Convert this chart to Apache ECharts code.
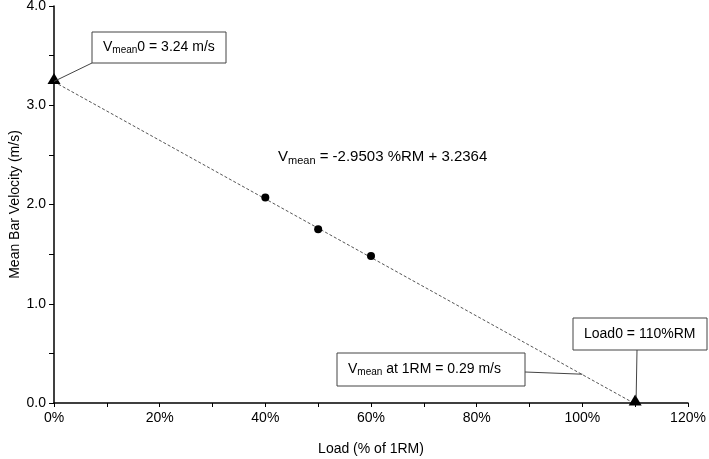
<!DOCTYPE html>
<html><head><meta charset="utf-8">
<script src="https://cdn.jsdelivr.net/npm/echarts@6/dist/echarts.min.js"></script>
<style>html,body{margin:0;padding:0;background:#fff}#c{width:709px;height:459px}</style>
</head><body><div id="c"></div>
<script>
// Data
var loads = [0.40, 0.50, 0.60];
var velocities = [2.07, 1.75, 1.48];
var slope = -2.9503, intercept = 3.2364;
var v0Point = [0, 3.24];
var load0Point = [1.10, 0];
var oneRMPoint = [1.00, 0.29];
var xTicks = ['0%', '20%', '40%', '60%', '80%', '100%', '120%'];
var yTicks = ['0.0', '1.0', '2.0', '3.0', '4.0'];

var FONT = 'Liberation Sans, Arial, sans-serif';
var chart = echarts.init(document.getElementById('c'), null, {renderer: 'canvas'});
var lineEndX = -intercept / slope;
var option = {
  animation: false,
  backgroundColor: '#fff',
  grid: {left: 54, right: 21, top: 6, bottom: 56, containLabel: false, outerBoundsMode: 'none'},
  xAxis: {
    type: 'value', min: 0, max: 1.2, interval: 0.2,
    name: 'Load (% of 1RM)', nameLocation: 'middle', nameGap: 39, nameMoveOverlap: false,
    nameTextStyle: {fontFamily: FONT, fontSize: 14, color: '#000'},
    axisLine: {show: true, onZero: false, lineStyle: {color: '#000', width: 1.5}},
    axisTick: {show: true, inside: false, length: 4, lineStyle: {color: '#000'}},
    minorTick: {show: true, splitNumber: 2, length: 4, lineStyle: {color: '#000'}},
    splitLine: {show: false},
    axisLabel: {fontFamily: FONT, fontSize: 14, color: '#000', margin: 8,
      formatter: function (v) { return xTicks[Math.round(v / 0.2)]; }}
  },
  yAxis: {
    type: 'value', min: 0, max: 4, interval: 1,
    name: 'Mean Bar Velocity (m/s)', nameLocation: 'middle', nameGap: 32, nameMoveOverlap: false,
    nameTextStyle: {fontFamily: FONT, fontSize: 14, color: '#000'},
    axisLine: {show: true, onZero: false, lineStyle: {color: '#000', width: 1.5}},
    axisTick: {show: true, inside: false, length: 5, lineStyle: {color: '#000'}},
    minorTick: {show: true, splitNumber: 2, length: 5, lineStyle: {color: '#000'}},
    splitLine: {show: false},
    axisLabel: {fontFamily: FONT, fontSize: 14, color: '#000', margin: 8,
      formatter: function (v) { return yTicks[Math.round(v)]; }}
  },
  series: [
    {
      type: 'line', data: [[0, intercept], [lineEndX, 0]], symbol: 'none',
      lineStyle: {color: '#555', width: 1, type: [3, 2]}, z: 1, silent: true
    },
    {
      type: 'scatter', data: loads.map(function (l, i) { return [l, velocities[i]]; }),
      symbol: 'circle', symbolSize: 8, itemStyle: {color: '#000', opacity: 1}, z: 3
    },
    {
      type: 'scatter', data: [v0Point, load0Point], symbol: 'triangle', symbolSize: [13, 11],
      symbolOffset: [0, -3], itemStyle: {color: '#000', opacity: 1}, z: 4
    }
  ]
};
chart.setOption(option);

function px(p) { return chart.convertToPixel({gridIndex: 0}, p); }
var pV0 = px(v0Point), pL0 = px(load0Point), p1RM = px(oneRMPoint);
var boxStyle = {fill: '#fff', stroke: '#444', lineWidth: 1};
function mkRich(fs) {
  return {
    n: {fontFamily: FONT, fontSize: fs, color: '#000'},
    s: {fontFamily: FONT, fontSize: Math.round(fs * 0.72), color: '#000', verticalAlign: 'bottom', padding: [Math.round(fs * 0.45), 0, 0, 0]}
  };
}
function box(x, y, w, h, text) {
  return [
    {type: 'rect', shape: {x: x, y: y, width: w, height: h}, style: boxStyle, z: 10},
    {type: 'text', x: x + 11, y: y + h / 2, z: 11,
      style: {text: text, rich: mkRich(14), verticalAlign: 'middle', align: 'left', font: '14px ' + FONT, fill: '#000'}}
  ];
}
var g = [];
// leader lines
g.push({type: 'line', shape: {x1: pV0[0], y1: pV0[1], x2: 92, y2: 63}, style: {stroke: '#444', lineWidth: 1}, z: 9});
g.push({type: 'line', shape: {x1: 525, y1: 372, x2: p1RM[0], y2: p1RM[1]}, style: {stroke: '#444', lineWidth: 1}, z: 9});
g.push({type: 'line', shape: {x1: 637, y1: 350, x2: pL0[0] + 1, y2: pL0[1] - 6}, style: {stroke: '#444', lineWidth: 1}, z: 9});
g = g.concat(box(92, 32, 134, 31, '{n|V}{s|mean}{n|0 = 3.24 m/s}'));
g = g.concat(box(337, 353, 188, 33, '{n|V}{s|mean}{n| at 1RM = 0.29 m/s}'));
g = g.concat(box(573, 318, 134, 32, '{n|Load0 = 110%RM}'));
// equation
g.push({type: 'text', x: 278, y: 157, z: 11,
  style: {text: '{n|V}{s|mean}{n| = -2.9503 %RM + 3.2364}', rich: mkRich(15), verticalAlign: 'middle', align: 'left', font: '15px ' + FONT, fill: '#000'}});
chart.setOption({graphic: g});
</script></body></html>
